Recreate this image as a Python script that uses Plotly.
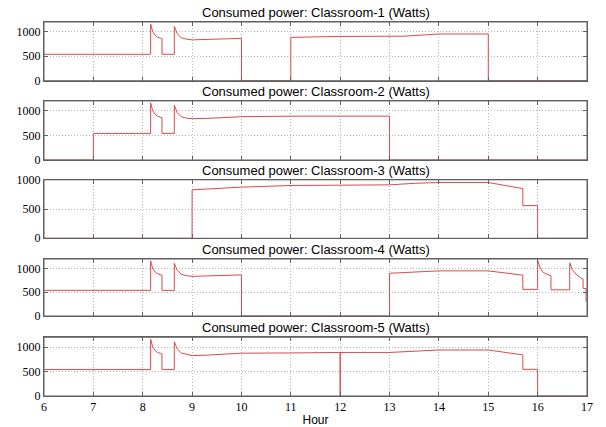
import plotly.graph_objects as go

# ---- data (hours, watts) ----
c1_hours = [6, 8.16, 8.16, 8.2, 8.25, 8.3, 8.36, 8.39, 8.39, 8.64, 8.64, 8.7, 8.78, 8.88, 9.0, 9.3, 10.0, 10.0,
            11.0, 11.0, 12.0, 13.3, 14.0, 15.0, 15.0, 17.0]
c1_watts = [540, 540, 1160, 1010, 930, 890, 870, 860, 540, 540, 1110, 960, 880, 850, 835, 840, 865, 0,
            0, 885, 905, 910, 955, 955, 0, 0]

c2_hours = [6, 7.0, 7.0, 8.16, 8.16, 8.2, 8.25, 8.3, 8.36, 8.39, 8.39, 8.64, 8.64, 8.7, 8.78, 8.88, 9.0, 9.3,
            10.0, 11.0, 13.0, 13.0, 17.0]
c2_watts = [0, 0, 540, 540, 1160, 1010, 930, 890, 870, 860, 540, 540, 1110, 960, 880, 850, 840, 845,
            880, 890, 890, 0, 0]

c3_hours = [6, 9.0, 9.0, 9.5, 10.0, 11.0, 12.0, 12.5, 13.0, 13.5, 14.0, 15.0, 15.7, 15.7, 16.0, 16.0, 17.0]
c3_watts = [0, 0, 828, 850, 875, 903, 905, 908, 914, 940, 954, 954, 850, 559, 559, 0, 0]

c4_hours = [6, 8.16, 8.16, 8.2, 8.25, 8.3, 8.36, 8.39, 8.39, 8.64, 8.64, 8.7, 8.78, 8.88, 9.0, 9.3, 10.0, 10.0,
            13.0, 13.0, 13.5, 14.0, 15.0, 15.7, 15.7, 16.0, 16.0, 16.05, 16.1, 16.18, 16.27, 16.27,
            16.65, 16.65, 16.7, 16.78, 16.89, 16.92, 16.92, 16.98, 16.98]
c4_watts = [540, 540, 1160, 1010, 930, 890, 870, 860, 540, 540, 1110, 960, 880, 850, 835, 840, 865, 0,
            0, 900, 930, 950, 950, 860, 560, 560, 1170, 1020, 930, 880, 850, 550,
            550, 1120, 980, 880, 790, 780, 585, 575, 300]

c5_hours = [6, 8.16, 8.16, 8.2, 8.25, 8.3, 8.36, 8.39, 8.39, 8.64, 8.64, 8.7, 8.78, 8.88, 9.0, 9.3,
            10.0, 11.0, 12.0, 12.0, 12.0, 13.0, 14.0, 15.0, 15.7, 15.7, 16.0, 16.0, 17.0]
c5_watts = [540, 540, 1160, 1010, 930, 890, 870, 860, 540, 540, 1110, 960, 880, 850, 825, 835,
            875, 880, 890, 0, 890, 890, 940, 940, 840, 545, 545, 0, 0]

series = [(c1_hours, c1_watts), (c2_hours, c2_watts), (c3_hours, c3_watts),
          (c4_hours, c4_watts), (c5_hours, c5_watts)]
titles = ["Consumed power: Classroom-%d (Watts)" % i for i in range(1, 6)]
y_max = [1200, 1200, 1000, 1200, 1200]
x_ticks = list(range(6, 18))
y_ticks = [0, 500, 1000]

# ---- layout ----
domains = [[0.843, 1.0], [0.631, 0.789], [0.4217, 0.578], [0.2139, 0.3663], [0.0, 0.157]]

fig = go.Figure()
line_col = "#dc4a4a"
frame_col = "#606060"
grid_col = "#b8b8b8"
serif = "Liberation Serif"
sans = "Liberation Sans"

layout = dict(
    template="none",
    width=606, height=427,
    margin=dict(l=44, r=19, t=22, b=31),
    paper_bgcolor="white", plot_bgcolor="white",
    showlegend=False,
    annotations=[],
    shapes=[],
)

for i, ((hx, wy), title) in enumerate(zip(series, titles)):
    n = i + 1
    xa = "x" if n == 1 else "x%d" % n
    ya = "y" if n == 1 else "y%d" % n
    fig.add_trace(go.Scatter(x=hx, y=wy, mode="lines", xaxis=xa, yaxis=ya,
                             line=dict(color=line_col, width=1), hoverinfo="skip"))
    xkey = "xaxis" if n == 1 else "xaxis%d" % n
    ykey = "yaxis" if n == 1 else "yaxis%d" % n
    layout[xkey] = dict(
        domain=[0, 1], anchor=ya, range=[6, 17], tickvals=x_ticks, automargin=False,
        showticklabels=(n == 5), ticks="inside", ticklen=4, tickcolor=frame_col, tickwidth=1,
        showline=True, linecolor=frame_col, linewidth=1, mirror="ticks", layer="above traces",
        showgrid=True, gridcolor=grid_col, griddash="1px,2px", gridwidth=1, zeroline=False,
        tickfont=dict(family=serif, size=12, color="black"),
        title=dict(text="Hour", font=dict(family=sans, size=12, color="black"), standoff=2) if n == 5 else None,
    )
    layout[ykey] = dict(
        domain=domains[i], anchor=xa, range=[0, y_max[i]], tickvals=y_ticks, automargin=False,
        ticks="inside", ticklen=4, tickcolor=frame_col, tickwidth=1,
        showline=True, linecolor=frame_col, linewidth=1, mirror="ticks", layer="above traces",
        showgrid=True, gridcolor=grid_col, griddash="1px,2px", gridwidth=1, zeroline=False,
        tickfont=dict(family=serif, size=12, color="black"),
    )
    # box drawn above the data, like the axes box of the original
    layout["shapes"].append(dict(
        type="rect", xref="%s domain" % xa, yref="%s domain" % ya, x0=0, x1=1, y0=0, y1=1,
        line=dict(color=frame_col, width=1), fillcolor="rgba(0,0,0,0)", layer="above",
    ))
    layout["annotations"].append(dict(
        text=title, x=0.5, xref="paper", y=domains[i][1], yref="paper",
        xanchor="center", yanchor="bottom", yshift=0, showarrow=False,
        font=dict(family=sans, size=13, color="black"),
    ))

fig.update_layout(**layout)
fig.write_html("out.html", config={"displayModeBar": False},
               post_script="document.body.style.margin='0px';document.body.style.padding='0px';")
